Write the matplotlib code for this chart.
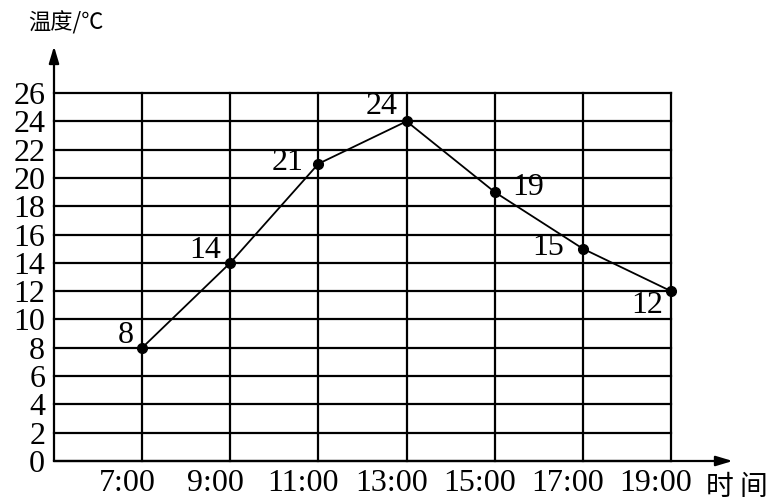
import matplotlib.pyplot as plt

hours = [7, 9, 11, 13, 15, 17, 19]
time_labels = ["7:00", "9:00", "11:00", "13:00", "15:00", "17:00", "19:00"]
temps = [8, 14, 21, 24, 19, 15, 12]
y_ticks = list(range(0, 27, 2))

# label offsets (points) for each data label
label_offsets = [(-12, 9), (-18, 9), (-22, 1), (-18, 11), (24, 3), (-25, 1), (-17, -10)]

W, H = 781, 501
fig = plt.figure(figsize=(W / 100, H / 100), dpi=100)
# plot area: x from 54 to 671 px, y from 93 to 461 px
ax = fig.add_axes([54 / W, 1 - 461 / H, (671 - 54) / W, (461 - 93) / H])
ax.set_xlim(5, 19)
ax.set_ylim(0, 26)
for s in ax.spines.values():
    s.set_visible(False)
ax.set_xticks([])
ax.set_yticks([])

serif = "Liberation Serif"
cjk = ["Noto Sans CJK SC", "DejaVu Sans"]

# grid
for y in y_ticks:
    ax.plot([5, 19], [y, y], color="black", lw=1.6, clip_on=False, zorder=1)
for x in hours:
    ax.plot([x, x], [0, 26], color="black", lw=1.6, clip_on=False, zorder=1)

# axes with arrows
arrow = dict(arrowstyle="-|>,head_length=1.0,head_width=0.3",
             color="black", lw=1.6, shrinkA=0, shrinkB=0)
ax.annotate("", xy=(5, 29.3), xytext=(5, 0), arrowprops=arrow,
            annotation_clip=False)
ax.annotate("", xy=(20.4, 0), xytext=(5, 0), arrowprops=arrow,
            annotation_clip=False)

# tick labels
for y in y_ticks:
    ax.text(4.8, y - 0.25, str(y), ha="right", va="center", fontsize=23,
            family=serif)
for x, lab in zip(hours, time_labels):
    ax.text(x - 0.34, -0.55, lab, ha="center", va="top", fontsize=23,
            family=serif)

# line and points
ax.plot(hours, temps, color="black", lw=1.3, marker="o", markersize=7,
        clip_on=False, zorder=3)
for x, t, off in zip(hours, temps, label_offsets):
    ax.annotate(str(t), (x, t), xytext=off, textcoords="offset points",
                ha="center", va="center", fontsize=23, family=serif)

# axis titles
fig.text(28 / W, 1 - 23 / H, "温度/℃", ha="left", va="center", fontsize=16,
         family=cjk)
fig.text(706 / W, 1 - 487 / H, "时 间", ha="left", va="center", fontsize=20,
         family=cjk)

fig.savefig("out.png", dpi=100)
